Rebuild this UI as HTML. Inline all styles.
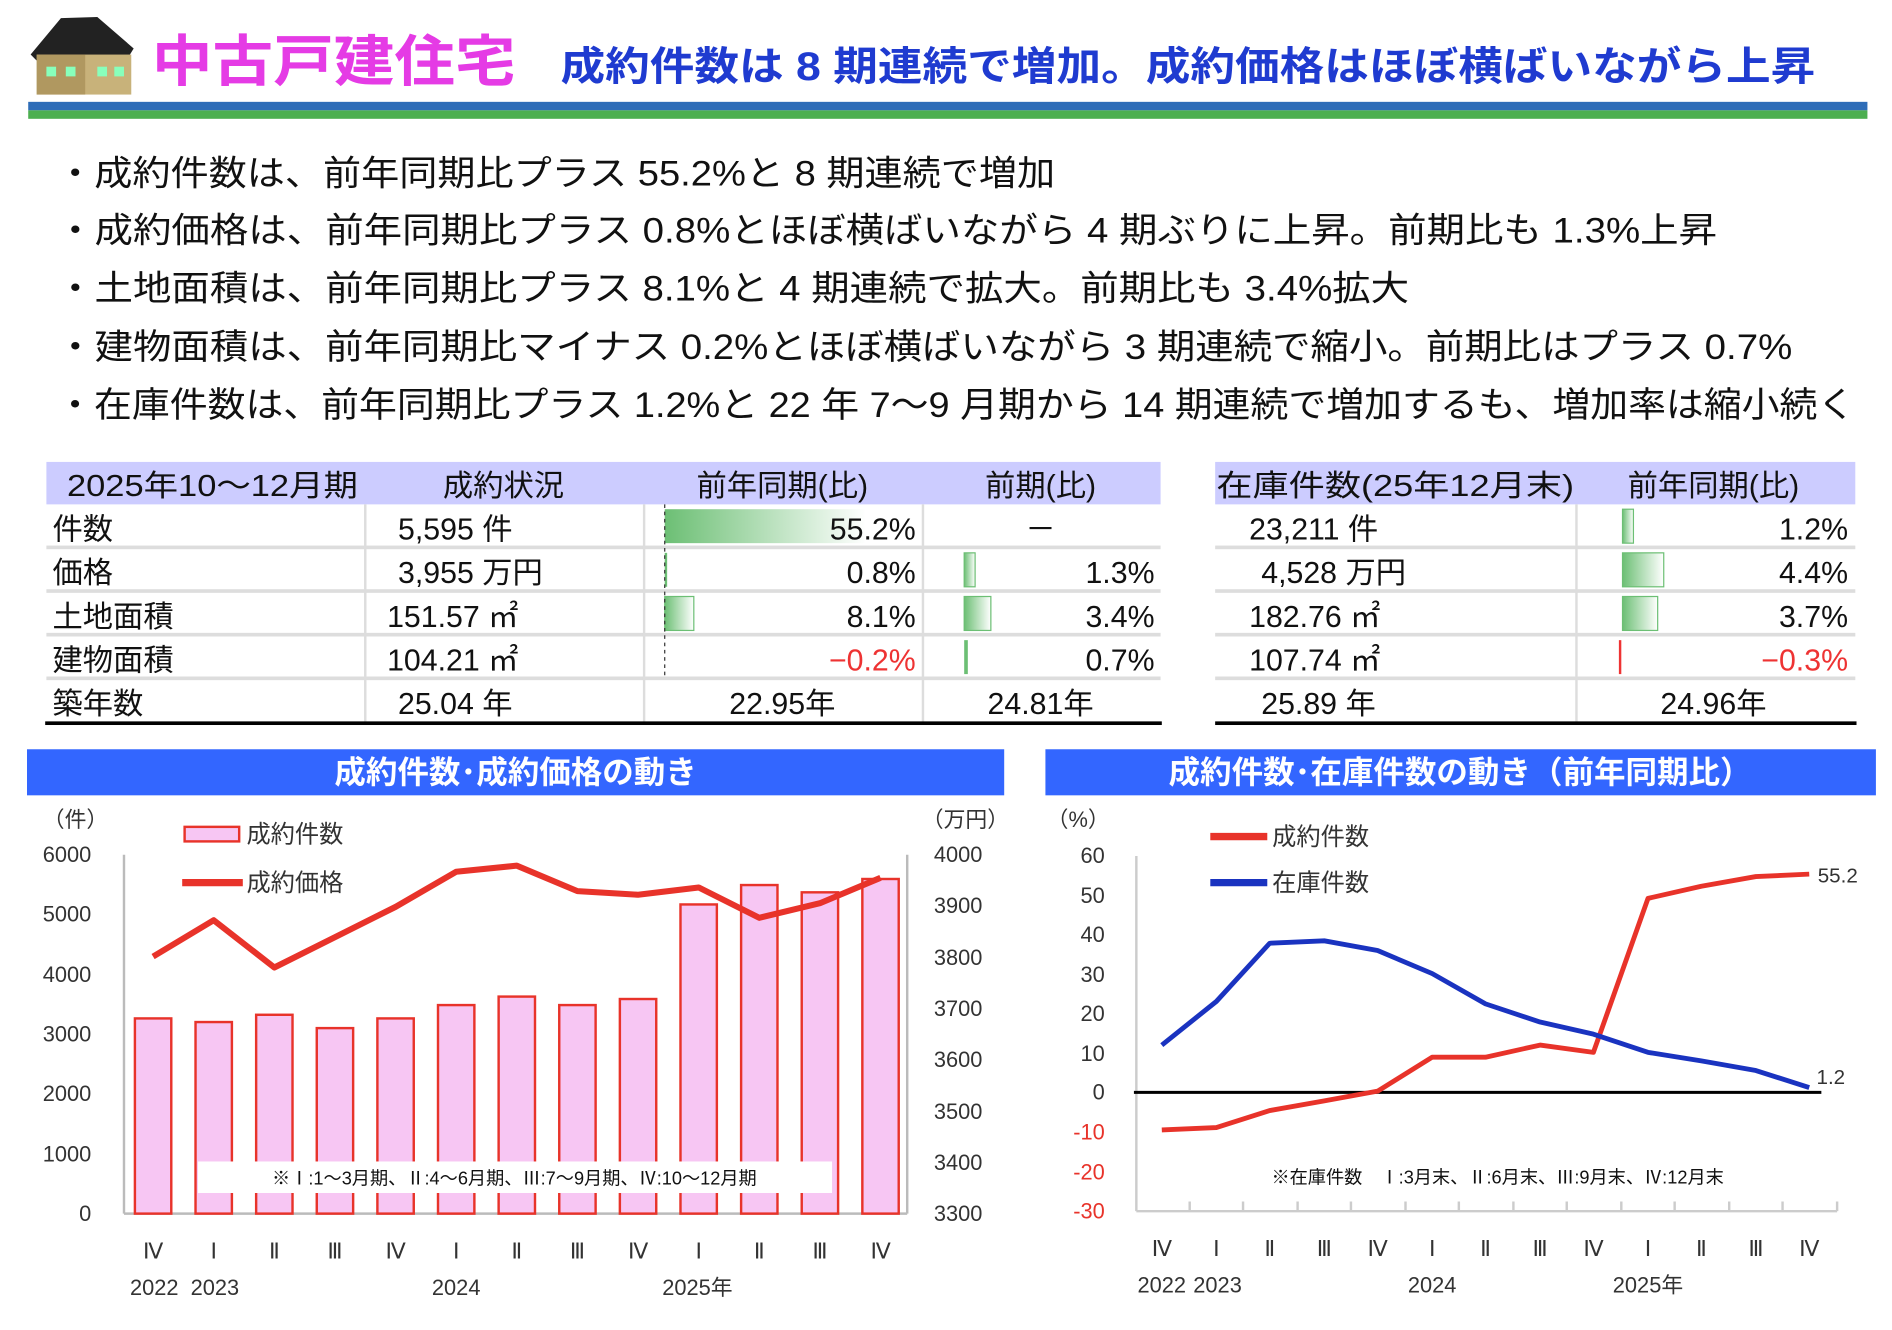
<!DOCTYPE html>
<html><head><meta charset="utf-8"><style>
html,body{margin:0;padding:0;background:#fff;}
svg{display:block;font-family:"Liberation Sans","Noto Sans CJK JP",sans-serif;}
</style></head><body>
<svg width="1892" height="1330" viewBox="0 0 1560 1097" xmlns="http://www.w3.org/2000/svg">
<defs>
<linearGradient id="g" x1="0" x2="1" y1="0" y2="0"><stop offset="0" stop-color="#6cbf74"/><stop offset="1" stop-color="#ffffff"/></linearGradient>
</defs>
<!-- house -->
<polygon points="25,45 50,15 80,14 110,40 105,48 30,50" fill="#222"/>
<rect x="30" y="45" width="78" height="33" fill="#c8b27a"/>
<rect x="30" y="45" width="40" height="33" fill="#b09860"/>
<rect x="38" y="55" width="8" height="8" fill="#8fb"/><rect x="54" y="55" width="8" height="8" fill="#8fb"/><rect x="80" y="55" width="8" height="8" fill="#8fb"/><rect x="94" y="55" width="8" height="8" fill="#8fb"/>
<!-- title -->
<text x="125" y="67" font-size="46" font-weight="bold" fill="#e53be5" textLength="300" lengthAdjust="spacingAndGlyphs">中古戸建住宅</text>
<text x="462" y="66" font-size="33" font-weight="bold" fill="#1f3bd0" textLength="1035" lengthAdjust="spacingAndGlyphs">成約件数は 8 期連続で増加。成約価格はほぼ横ばいながら上昇</text>
<rect x="23" y="84" width="1517" height="7" fill="#2e6db8"/>
<rect x="23" y="91" width="1517" height="7" fill="#4caf50"/>
<!-- bullets -->
<g font-size="29" fill="#111">
<text x="46" y="153" textLength="824" lengthAdjust="spacingAndGlyphs">・成約件数は、前年同期比プラス 55.2%と 8 期連続で増加</text>
<text x="46" y="200" textLength="1370" lengthAdjust="spacingAndGlyphs">・成約価格は、前年同期比プラス 0.8%とほぼ横ばいながら 4 期ぶりに上昇。前期比も 1.3%上昇</text>
<text x="46" y="248" textLength="1116" lengthAdjust="spacingAndGlyphs">・土地面積は、前年同期比プラス 8.1%と 4 期連続で拡大。前期比も 3.4%拡大</text>
<text x="46" y="296" textLength="1432" lengthAdjust="spacingAndGlyphs">・建物面積は、前年同期比マイナス 0.2%とほぼ横ばいながら 3 期連続で縮小。前期比はプラス 0.7%</text>
<text x="46" y="344" textLength="1484" lengthAdjust="spacingAndGlyphs">・在庫件数は、前年同期比プラス 1.2%と 22 年 7～9 月期から 14 期連続で増加するも、増加率は縮小続く</text>
</g>
<!-- left table -->
<rect x="38" y="381" width="919" height="35" fill="#ccccff"/>
<rect x="1002" y="381" width="528" height="35" fill="#ccccff"/>
<g fill="#ddd">
<rect x="38" y="450" width="919" height="3"/><rect x="38" y="486" width="919" height="3"/><rect x="38" y="522" width="919" height="3"/><rect x="38" y="558" width="919" height="3"/>
<rect x="1002" y="450" width="528" height="3"/><rect x="1002" y="486" width="528" height="3"/><rect x="1002" y="522" width="528" height="3"/><rect x="1002" y="558" width="528" height="3"/>
<rect x="300" y="416" width="2" height="180"/><rect x="530" y="416" width="2" height="180"/><rect x="760" y="416" width="2" height="180"/><rect x="1299" y="416" width="2" height="180"/>
</g>
<rect x="37" y="595" width="921" height="3" fill="#000"/>
<rect x="1002" y="595" width="529" height="3" fill="#000"/>
<!-- bars -->
<rect x="548" y="420" width="166" height="28" fill="url(#g)"/>
<rect x="548" y="456" width="2" height="28" fill="#6cbf74"/>
<rect x="548" y="492" width="24" height="28" fill="url(#g)" stroke="#6cbf74"/>
<line x1="548" y1="416" x2="548" y2="560" stroke="#333" stroke-dasharray="3,3"/>
<rect x="795" y="456" width="9" height="28" fill="url(#g)" stroke="#6cbf74"/>
<rect x="795" y="492" width="22" height="28" fill="url(#g)" stroke="#6cbf74"/>
<rect x="795" y="528" width="3" height="28" fill="#6cbf74"/>
<rect x="1338" y="420" width="9" height="28" fill="url(#g)" stroke="#6cbf74"/>
<rect x="1338" y="456" width="34" height="28" fill="url(#g)" stroke="#6cbf74"/>
<rect x="1338" y="492" width="29" height="28" fill="url(#g)" stroke="#6cbf74"/>
<rect x="1335" y="528" width="2" height="28" fill="#e33"/>
<g font-size="25" fill="#111">
<text x="55" y="409" textLength="240" lengthAdjust="spacingAndGlyphs">2025年10～12月期</text>
<text x="415" y="409" text-anchor="middle">成約状況</text>
<text x="645" y="409" text-anchor="middle">前年同期(比)</text>
<text x="858" y="409" text-anchor="middle">前期(比)</text>
<text x="1003" y="409" textLength="295" lengthAdjust="spacingAndGlyphs">在庫件数(25年12月末)</text>
<text x="1413" y="409" text-anchor="middle">前年同期(比)</text>
<text x="43" y="445">件数</text><text x="43" y="481">価格</text><text x="43" y="517">土地面積</text><text x="43" y="553">建物面積</text><text x="43" y="589">築年数</text>
<text x="328" y="445">5,595 件</text><text x="328" y="481">3,955 万円</text><text x="319" y="517">151.57 ㎡</text><text x="319" y="553">104.21 ㎡</text><text x="328" y="589">25.04 年</text>
<text x="755" y="445" text-anchor="end">55.2%</text><text x="755" y="481" text-anchor="end">0.8%</text><text x="755" y="517" text-anchor="end">8.1%</text><text x="755" y="553" text-anchor="end" fill="#e33">−0.2%</text>
<text x="858" y="445" text-anchor="middle">－</text><text x="952" y="481" text-anchor="end">1.3%</text><text x="952" y="517" text-anchor="end">3.4%</text><text x="952" y="553" text-anchor="end">0.7%</text>
<text x="645" y="589" text-anchor="middle">22.95年</text><text x="858" y="589" text-anchor="middle">24.81年</text>
<text x="1030" y="445">23,211 件</text><text x="1040" y="481">4,528 万円</text><text x="1030" y="517">182.76 ㎡</text><text x="1030" y="553">107.74 ㎡</text><text x="1040" y="589">25.89 年</text>
<text x="1524" y="445" text-anchor="end">1.2%</text><text x="1524" y="481" text-anchor="end">4.4%</text><text x="1524" y="517" text-anchor="end">3.7%</text><text x="1524" y="553" text-anchor="end" fill="#e33">−0.3%</text>
<text x="1413" y="589" text-anchor="middle">24.96年</text>
</g>
<!-- chart headers -->
<rect x="22" y="618" width="806" height="38" fill="#3366ff"/>
<rect x="862" y="618" width="685" height="38" fill="#3366ff"/>
<text x="425" y="646" font-size="26" font-weight="bold" fill="#fff" text-anchor="middle">成約件数･成約価格の動き</text>
<text x="1204" y="646" font-size="26" font-weight="bold" fill="#fff" text-anchor="middle">成約件数･在庫件数の動き（前年同期比）</text>
<!-- left chart -->
<g font-size="18" fill="#333">
<text x="35" y="682">（件）</text><text x="760" y="682">（万円）</text>
<text x="75" y="711" text-anchor="end">6000</text><text x="75" y="760" text-anchor="end">5000</text><text x="75" y="810" text-anchor="end">4000</text><text x="75" y="859" text-anchor="end">3000</text><text x="75" y="908" text-anchor="end">2000</text><text x="75" y="958" text-anchor="end">1000</text><text x="75" y="1007" text-anchor="end">0</text>
<text x="770" y="711">4000</text><text x="770" y="753">3900</text><text x="770" y="796">3800</text><text x="770" y="838">3700</text><text x="770" y="880">3600</text><text x="770" y="923">3500</text><text x="770" y="965">3400</text><text x="770" y="1007">3300</text>
</g>
<g stroke="#bbb" stroke-width="2"><line x1="102" y1="705" x2="102" y2="1001"/><line x1="748" y1="705" x2="748" y2="1001"/><line x1="102" y1="1001" x2="748" y2="1001"/></g>
<g fill="#f7c6f3" stroke="#e8332a" stroke-width="2">
<rect x="111" y="840" width="30" height="161"/><rect x="161" y="843" width="30" height="158"/><rect x="211" y="837" width="30" height="164"/><rect x="261" y="848" width="30" height="153"/><rect x="311" y="840" width="30" height="161"/><rect x="361" y="829" width="30" height="172"/><rect x="411" y="822" width="30" height="179"/><rect x="461" y="829" width="30" height="172"/><rect x="511" y="824" width="30" height="177"/><rect x="561" y="746" width="30" height="255"/><rect x="611" y="730" width="30" height="271"/><rect x="661" y="736" width="30" height="265"/><rect x="711" y="725" width="30" height="276"/>
</g>
<rect x="163" y="958" width="523" height="26" fill="#fff"/>
<text x="424" y="977" font-size="15" fill="#111" text-anchor="middle">※Ⅰ:1～3月期、Ⅱ:4～6月期、Ⅲ:7～9月期、Ⅳ:10～12月期</text>
<polyline fill="none" stroke="#e8332a" stroke-width="5" stroke-linejoin="round" points="126,789 176,759 226,798 276,773 326,748 376,719 426,714 476,735 526,738 576,732 626,757 676,745 726,724"/>
<rect x="152" y="682" width="45" height="12" fill="#f7c6f3" stroke="#e8332a" stroke-width="2"/>
<line x1="150" y1="728" x2="200" y2="728" stroke="#e8332a" stroke-width="6"/>
<g font-size="20" fill="#333"><text x="203" y="695">成約件数</text><text x="203" y="735">成約価格</text></g>
<g font-size="18" fill="#333" text-anchor="middle" font-family="Liberation Serif, serif">
<text x="126" y="1038">Ⅳ</text><text x="176" y="1038">Ⅰ</text><text x="226" y="1038">Ⅱ</text><text x="276" y="1038">Ⅲ</text><text x="326" y="1038">Ⅳ</text><text x="376" y="1038">Ⅰ</text><text x="426" y="1038">Ⅱ</text><text x="476" y="1038">Ⅲ</text><text x="526" y="1038">Ⅳ</text><text x="576" y="1038">Ⅰ</text><text x="626" y="1038">Ⅱ</text><text x="676" y="1038">Ⅲ</text><text x="726" y="1038">Ⅳ</text>
</g>
<g font-size="18" fill="#333" text-anchor="middle"><text x="127" y="1068">2022</text><text x="177" y="1068">2023</text><text x="376" y="1068">2024</text><text x="575" y="1068">2025年</text></g>
<!-- right chart -->
<g font-size="18" fill="#333" text-anchor="end">
<text x="915" y="682">（%）</text>
<text x="911" y="712">60</text><text x="911" y="745">50</text><text x="911" y="777">40</text><text x="911" y="810">30</text><text x="911" y="842">20</text><text x="911" y="875">10</text><text x="911" y="907">0</text>
<g fill="#e8332a"><text x="911" y="940">-10</text><text x="911" y="973">-20</text><text x="911" y="1005">-30</text></g>
</g>
<g stroke="#ccc" stroke-width="2"><line x1="937" y1="706" x2="937" y2="999"/><line x1="937" y1="999" x2="1515" y2="999"/>
<path d="M981 999v-8M1025 999v-8M1070 999v-8M1114 999v-8M1159 999v-8M1203 999v-8M1248 999v-8M1292 999v-8M1337 999v-8M1381 999v-8M1426 999v-8M1470 999v-8M1515 999v-8"/></g>
<line x1="935" y1="901" x2="1502" y2="901" stroke="#000" stroke-width="2.5"/>
<polyline fill="none" stroke="#e8332a" stroke-width="4" stroke-linejoin="round" points="958,932 1003,930 1047,916 1092,908 1136,900 1181,872 1225,872 1270,862 1314,868 1359,741 1403,731 1448,723 1492,721"/>
<polyline fill="none" stroke="#1a33c0" stroke-width="4" stroke-linejoin="round" points="958,862 1003,826 1047,778 1092,776 1136,784 1181,803 1225,828 1270,843 1314,853 1359,868 1403,875 1448,883 1492,897"/>
<line x1="998" y1="690" x2="1045" y2="690" stroke="#e8332a" stroke-width="6"/>
<line x1="998" y1="728" x2="1045" y2="728" stroke="#1a33c0" stroke-width="6"/>
<g font-size="20" fill="#333"><text x="1049" y="697">成約件数</text><text x="1049" y="735">在庫件数</text></g>
<g font-size="17" fill="#333"><text x="1499" y="728">55.2</text><text x="1498" y="894">1.2</text></g>
<text x="1235" y="976" font-size="15" fill="#111" text-anchor="middle">※在庫件数　Ⅰ:3月末、Ⅱ:6月末、Ⅲ:9月末、Ⅳ:12月末</text>
<g font-size="18" fill="#333" text-anchor="middle" font-family="Liberation Serif, serif">
<text x="958" y="1036">Ⅳ</text><text x="1003" y="1036">Ⅰ</text><text x="1047" y="1036">Ⅱ</text><text x="1092" y="1036">Ⅲ</text><text x="1136" y="1036">Ⅳ</text><text x="1181" y="1036">Ⅰ</text><text x="1225" y="1036">Ⅱ</text><text x="1270" y="1036">Ⅲ</text><text x="1314" y="1036">Ⅳ</text><text x="1359" y="1036">Ⅰ</text><text x="1403" y="1036">Ⅱ</text><text x="1448" y="1036">Ⅲ</text><text x="1492" y="1036">Ⅳ</text>
</g>
<g font-size="18" fill="#333" text-anchor="middle"><text x="958" y="1066">2022</text><text x="1004" y="1066">2023</text><text x="1181" y="1066">2024</text><text x="1359" y="1066">2025年</text></g>
</svg>
</body></html>
